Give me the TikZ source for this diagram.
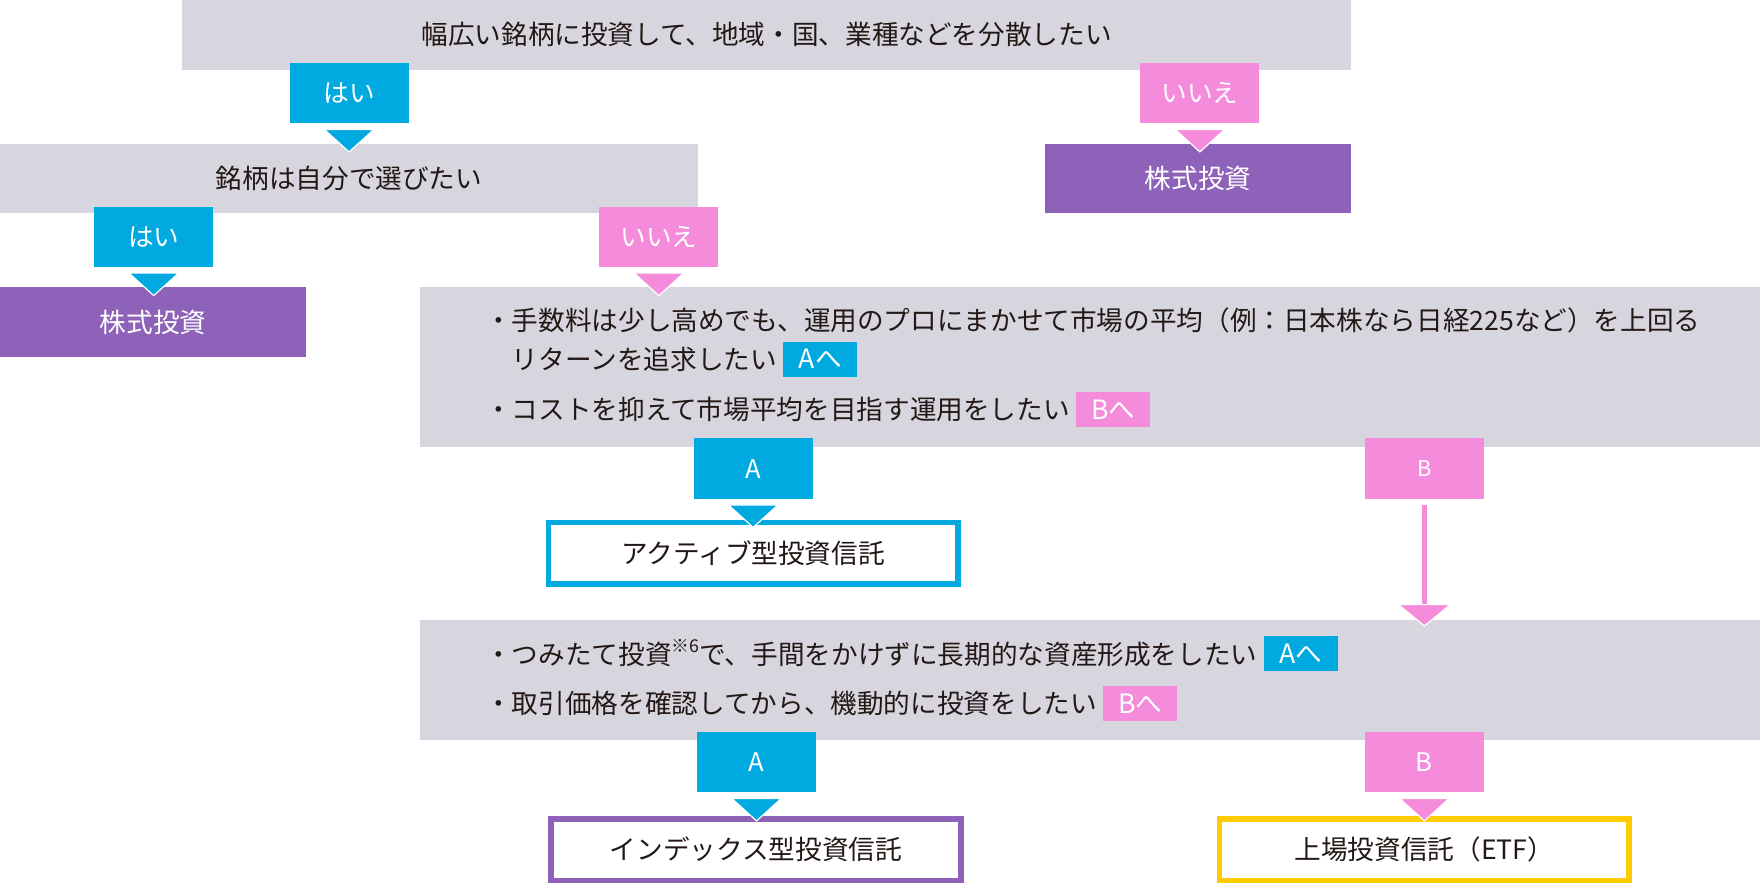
\documentclass[tikz,border=0pt]{standalone}
\usepackage{fontspec}
\setmainfont{Noto Sans CJK JP}
\usetikzlibrary{positioning}
\definecolor{qgray}{HTML}{D7D6DF}
\definecolor{yesblue}{HTML}{00A9E0}
\definecolor{nopink}{HTML}{F48CDB}
\definecolor{stockpurple}{HTML}{8F62BA}
\definecolor{etfyellow}{HTML}{FFCC00}
\definecolor{ink}{HTML}{231815}
\newcommand{\jpfont}{\fontsize{13.5}{16}\selectfont}
\tikzset{
  question/.style={fill=qgray, inner sep=0pt, minimum height=1.24cm, text=ink, font=\jpfont},
  answer/.style={inner sep=0pt, minimum width=2.12cm, minimum height=1.08cm, text=white, font=\fontsize{13}{16}\selectfont},
  yesbox/.style={answer, fill=yesblue},
  nobox/.style={answer, fill=nopink},
  stock/.style={fill=stockpurple, inner sep=0pt, minimum width=5.46cm, minimum height=1.24cm, text=white, font=\jpfont},
  fund/.style={draw=#1, line width=0.1cm, fill=white, inner sep=0pt, minimum width=7.3cm, minimum height=1.1cm, text=ink, font=\jpfont},
  rowtext/.style={anchor=west, inner sep=0pt, text=ink, font=\jpfont},
  badge/.style={fill=#1, inner sep=0pt, minimum width=1.32cm, minimum height=0.62cm, text=white, font=\jpfont}
}
\begin{document}
\begin{tikzpicture}
\useasboundingbox (0,0) rectangle (31.36,-15.76);

\node (q1) [question, minimum width=20.84cm] at (13.66,-0.62) {幅広い銘柄に投資して、地域・国、業種などを分散したい};
\node (yes1) [yesbox] at (6.22,-1.66) {はい};
\node (no1) [nobox] at (21.38,-1.66) {いいえ};
\node (stock1) [stock] at (21.35,-3.18) {株式投資};

\node (q2) [question, minimum width=12.44cm] at (6.22,-3.18) {銘柄は自分で選びたい};
\node (yes2) [yesbox] at (2.74,-4.22) {はい};
\node (no2) [nobox] at (11.74,-4.22) {いいえ};
\node (stock2) [stock] at (2.73,-5.74) {株式投資};

\node (q3) [question, minimum width=23.88cm, minimum height=2.84cm] at (19.42,-6.54) {};
\node (r1) [rowtext] at (8.64,-5.70) {・手数料は少し高めでも、運用のプロにまかせて市場の平均（例：日本株なら日経225など）を上回る};
\node (r2) [rowtext] at (8.64,-6.40) {\phantom{・}リターンを追求したい};
\node (r2b) [badge=yesblue, right=0.1cm of r2] {Aへ};
\node (r3) [rowtext] at (8.64,-7.30) {・コストを抑えて市場平均を目指す運用をしたい};
\node (r3b) [badge=nopink, right=0.1cm of r3] {Bへ};

\node (a1) [yesbox] at (13.42,-8.35) {A};
\node (b1) [nobox, font=\fontsize{11}{13}\selectfont] at (25.38,-8.35) {B};
\node (active) [fund=yesblue] at (13.42,-9.86) {アクティブ型投資信託};

\node (q4) [question, minimum width=23.88cm, minimum height=2.14cm] at (19.42,-12.11) {};
\node (s1) [rowtext] at (8.64,-11.64) {・つみたて投資\raisebox{0.45em}{\fontsize{9}{10}\selectfont ※6}で、手間をかけずに長期的な資産形成をしたい};
\node (s1b) [badge=yesblue, right=0.1cm of s1] {Aへ};
\node (s2) [rowtext] at (8.64,-12.54) {・取引価格を確認してから、機動的に投資をしたい};
\node (s2b) [badge=nopink, right=0.1cm of s2] {Bへ};

\node (a2) [yesbox] at (13.48,-13.58) {A};
\node (b2) [nobox] at (25.38,-13.58) {B};
\node (index) [fund=stockpurple] at (13.47,-15.14) {インデックス型投資信託};
\node (etf) [fund=etfyellow] at (25.38,-15.14) {上場投資信託（ETF）};

\foreach \lab/\col in {yes1/yesblue, no1/nopink, yes2/yesblue, no2/nopink, a1/yesblue, a2/yesblue, b2/nopink}
  \filldraw[fill=\col, draw=white, line width=0.6pt] ([xshift=-0.44cm,yshift=-0.1cm]\lab.south) -- ([xshift=0.44cm,yshift=-0.1cm]\lab.south) -- ([yshift=-0.5cm]\lab.south) -- cycle;

\coordinate (bend) at (b1.south |- q4.north);
\draw[nopink, line width=0.1cm] ([yshift=-0.1cm]b1.south) -- ([yshift=0.26cm]bend);
\filldraw[fill=nopink, draw=white, line width=0.6pt] ([xshift=-0.46cm,yshift=0.26cm]bend) -- ([xshift=0.46cm,yshift=0.26cm]bend) -- ([yshift=-0.12cm]bend) -- cycle;
\end{tikzpicture}
\end{document}
